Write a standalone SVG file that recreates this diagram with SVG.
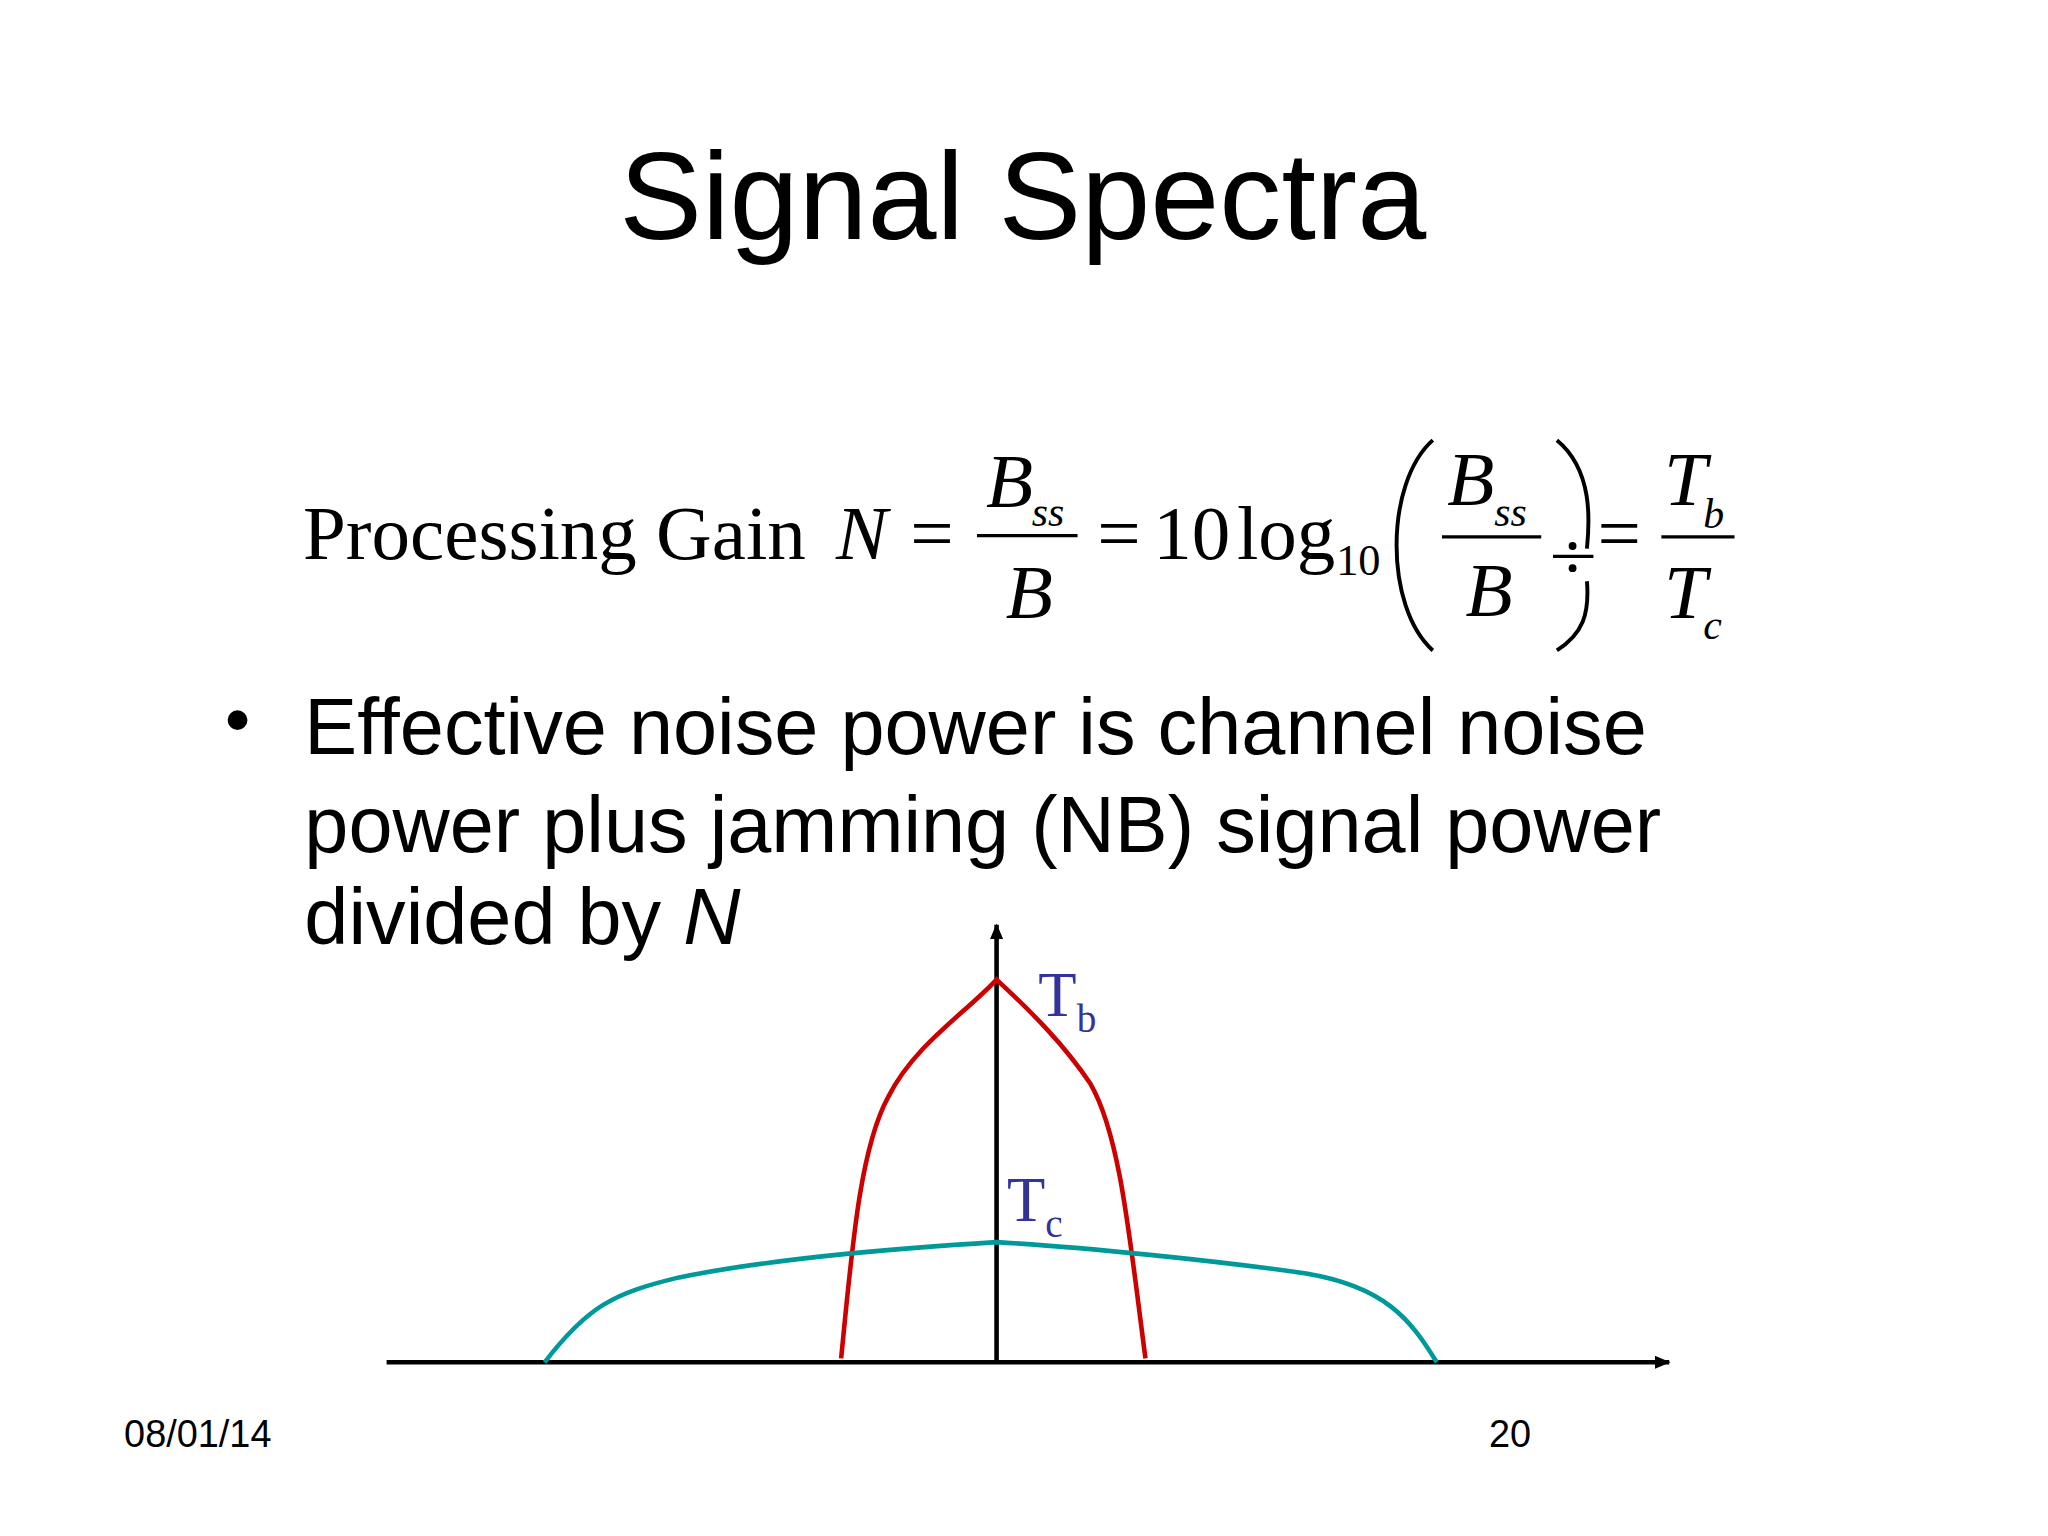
<svg xmlns="http://www.w3.org/2000/svg" width="2048" height="1536" viewBox="0 0 2048 1536">
<style>
.s{font-family:"Liberation Sans",Arial,sans-serif;fill:#000}
.m{font-family:"Liberation Serif","Times New Roman",serif;fill:#000}
.i{font-style:italic}
.ax{stroke:#000;stroke-width:3.5;fill:none}
</style>
<defs><marker id="ah" markerWidth="12" markerHeight="10" refX="11" refY="5" orient="auto" markerUnits="userSpaceOnUse"><path d="M0,0 L12,5 L0,10 Z" fill="#000"/></marker></defs>
<rect width="2048" height="1536" fill="#fff"/>
<g transform="scale(1.30612)">
<text id="title" class="s" x="783" y="183" font-size="95" text-anchor="middle">Signal Spectra</text>
<g id="equation">
<text class="m" x="232" y="428" font-size="59">Processing Gain</text>
<text class="m i" x="640" y="428" font-size="59">N</text>
<text class="m" x="697" y="428" font-size="59">=</text>
<line x1="748" y1="410" x2="825" y2="410" stroke="#000" stroke-width="2.5"/>
<text class="m i" x="755" y="388" font-size="59">B</text>
<text class="m i" x="790" y="403" font-size="32">ss</text>
<text class="m i" x="770" y="473" font-size="59">B</text>
<text class="m" x="840" y="428" font-size="59">=</text>
<text class="m" x="883" y="428" font-size="59">10</text>
<text class="m" x="947" y="428" font-size="59">log</text>
<text class="m" x="1023" y="440" font-size="34">10</text>
<path d="M1097,337 C1060,370 1060,465 1097,498" stroke="#000" stroke-width="3" fill="none"/>
<path d="M1192,337 C1220,360 1217,400 1215,420 M1215,445 C1217,470 1212,485 1192,498" stroke="#000" stroke-width="3" fill="none"/>
<line x1="1104" y1="411" x2="1180" y2="411" stroke="#000" stroke-width="2.5"/>
<text class="m i" x="1108" y="387" font-size="59">B</text>
<text class="m i" x="1144" y="403" font-size="32">ss</text>
<text class="m i" x="1122" y="472" font-size="59">B</text>
<line x1="1189" y1="426" x2="1220" y2="426" stroke="#000" stroke-width="2.5"/>
<circle cx="1204" cy="418" r="3" fill="#000"/><circle cx="1204" cy="435" r="3" fill="#000"/>
<text class="m" x="1223" y="428" font-size="59">=</text>
<line x1="1272" y1="411" x2="1328" y2="411" stroke="#000" stroke-width="2.5"/>
<text class="m i" x="1274" y="387" font-size="59">T</text>
<text class="m i" x="1304" y="404" font-size="32">b</text>
<text class="m i" x="1274" y="473" font-size="59">T</text>
<text class="m i" x="1304" y="489" font-size="32">c</text>
</g>
<g id="bullet">
<text class="s" x="172" y="570" font-size="56">•</text>
<text class="s" x="233" y="577" font-size="60.7">Effective noise power is channel noise</text>
<text class="s" x="233" y="652" font-size="60.7">power plus jamming (NB) signal power</text>
<text class="s" x="233" y="723" font-size="60.7">divided by <tspan class="i">N</tspan></text>
</g>
<g id="connectors">
<line class="ax" x1="296" y1="1043" x2="1278" y2="1043" marker-end="url(#ah)"/>
<line class="ax" x1="763" y1="1043" x2="763" y2="708" marker-end="url(#ah)"/>
</g>
<g id="curves">
<path d="M644,1040 C652,960 658,880 680,840 C700,800 740,775 763,750 C790,775 815,800 835,830 C858,870 865,950 877,1040" stroke="#cc0000" stroke-width="3.5" fill="none"/>
<path d="M417,1043 C450,1000 470,990 520,978 C600,962 700,955 763,951 C830,955 930,965 1000,975 C1060,985 1080,1010 1100,1043" stroke="#009999" stroke-width="3.5" fill="none"/>
</g>
<g id="labels">
<text class="m" x="795" y="778" font-size="48" style="fill:#333399">T<tspan font-size="30" dy="12">b</tspan></text>
<text class="m" x="771" y="935" font-size="48" style="fill:#333399">T<tspan font-size="30" dy="12">c</tspan></text>
</g>
<g id="footer">
<text class="s" x="95" y="1108" font-size="29">08/01/14</text>
<text class="s" x="1140" y="1108" font-size="29">20</text>
</g>
</g>
</svg>
